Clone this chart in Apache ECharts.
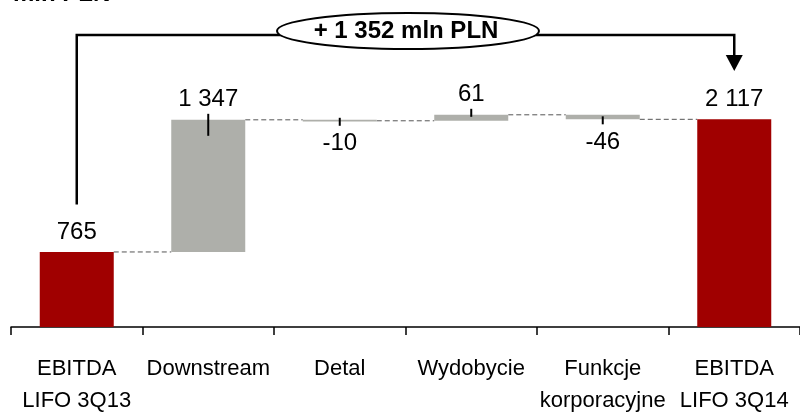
<!DOCTYPE html>
<html><head><meta charset="utf-8">
<script src="https://cdn.jsdelivr.net/npm/echarts@6/dist/echarts.min.js"></script>
<style>html,body{margin:0;padding:0;background:#fff;overflow:hidden}#c{width:800px;height:417px}</style>
</head><body><div id="c"></div>
<script>
const categories = ['EBITDA\nLIFO 3Q13','Downstream','Detal','Wydobycie','Funkcje\nkorporacyjne','EBITDA\nLIFO 3Q14'];
const values = [765, 1347, -10, 61, -46, 2117];
const isTotal = [true, false, false, false, false, true];
const bracketText = '+ 1 352 mln PLN';
const unitText = 'mln PLN';

const FONT = '"Liberation Sans",Arial,sans-serif';
const RED = '#A00000', GRAY = '#AEAFAA';

let run = 0; const lows = [], highs = [], ends = [];
values.forEach((v, i) => {
  if (isTotal[i]) { lows.push(0); highs.push(v); run = v; }
  else { const s = run; run = s + v; lows.push(Math.min(s, run)); highs.push(Math.max(s, run)); }
  ends.push(run);
});
const fmt = v => (v < 0 ? '-' : '') + Math.abs(v).toString().replace(/\B(?=(\d{3})+(?!\d))/g, ' ');

const barData = values.map((v, i) => [i, lows[i], highs[i], v, isTotal[i] ? 1 : 0]);
const connData = values.slice(0, -1).map((v, i) => [i, ends[i]]);
const BW = 74;

const chart = echarts.init(document.getElementById('c'), null, {renderer: 'canvas'});
chart.setOption({
  animation: false,
  grid: {left: 11, right: -3, top: 81.75, bottom: 86.5, containLabel: false},
  xAxis: {
    type: 'category', data: categories,
    axisLine: {lineStyle: {color: '#000', width: 1.5}},
    axisTick: {show: true, length: 8, lineStyle: {color: '#000', width: 1.5}},
    axisLabel: {interval: 0, color: '#000', fontFamily: FONT, fontSize: 22, lineHeight: 32, margin: 26}
  },
  yAxis: {type: 'value', min: 0, max: 2500, show: false},
  series: [
    {
      type: 'custom', z: 3,
      data: connData,
      encode: {x: 0, y: 1},
      renderItem(params, api) {
        const i = api.value(0), e = api.value(1);
        const a = api.coord([i, e]), b = api.coord([i + 1, e]);
        return {type: 'line', shape: {x1: a[0] + BW / 2, y1: a[1], x2: b[0] - BW / 2, y2: b[1]},
          style: {stroke: '#555', lineWidth: 1, lineDash: [5, 3]}};
      }
    },
    {
      type: 'custom', z: 4,
      data: barData,
      encode: {x: 0, y: [1, 2]},
      renderItem(params, api) {
        const i = api.value(0), lo = api.value(1), hi = api.value(2), v = api.value(3), tot = api.value(4);
        const pLo = api.coord([i, lo]), pHi = api.coord([i, hi]);
        const cx = pLo[0];
        const h = Math.max(pLo[1] - pHi[1], 1.6);
        const ch = [{type: 'rect', shape: {x: cx - BW / 2, y: pHi[1], width: BW, height: h}, style: {fill: tot ? RED : GRAY}}];
        let ly;
        if (tot || v >= 0) ly = pHi[1] - 20; else ly = pLo[1] + 23;
        ch.push({type: 'text', style: {text: fmt(v), x: cx, y: ly, align: 'center', verticalAlign: 'middle',
          font: '24px ' + FONT, fill: '#000'}});
        if (!tot) {
          let y1, y2;
          if (v >= 0) { y1 = pHi[1] - 6; y2 = pHi[1] + (h > 20 ? 16 : 2); }
          else { y1 = pLo[1] - 3; y2 = pLo[1] + 5; }
          ch.push({type: 'line', shape: {x1: cx, y1, x2: cx, y2}, style: {stroke: '#000', lineWidth: 2}});
        }
        return {type: 'group', children: ch};
      }
    }
  ]
});

const p0 = chart.convertToPixel({gridIndex: 0}, [0, 1250]);
const p5 = chart.convertToPixel({gridIndex: 0}, [5, 2500]);
const by = 35, ecx = 408, ecy = 31;
chart.setOption({
  graphic: [
    {type: 'polyline', z: 10, shape: {points: [[p0[0], p0[1]], [p0[0], by], [ecx, by]]},
      style: {stroke: '#000', lineWidth: 2.5, fill: null}},
    {type: 'polyline', z: 10, shape: {points: [[ecx, by], [p5[0], by], [p5[0], 56]]},
      style: {stroke: '#000', lineWidth: 2.5, fill: null}},
    {type: 'polygon', z: 10, shape: {points: [[p5[0] - 8.5, 55], [p5[0] + 8.5, 55], [p5[0], 71]]},
      style: {fill: '#000'}},
    {type: 'ellipse', z: 11, shape: {cx: ecx, cy: ecy, rx: 131, ry: 18},
      style: {fill: '#fff', stroke: '#000', lineWidth: 2}},
    {type: 'text', z: 12, style: {text: bracketText, x: 406, y: ecy, align: 'center', verticalAlign: 'middle',
      font: 'bold 24px ' + FONT, fill: '#000'}},
    {type: 'text', z: 12, style: {text: unitText, x: 13, y: -6, align: 'left', verticalAlign: 'middle',
      font: 'bold 24px ' + FONT, fill: '#000'}}
  ]
});
</script>
</body></html>
